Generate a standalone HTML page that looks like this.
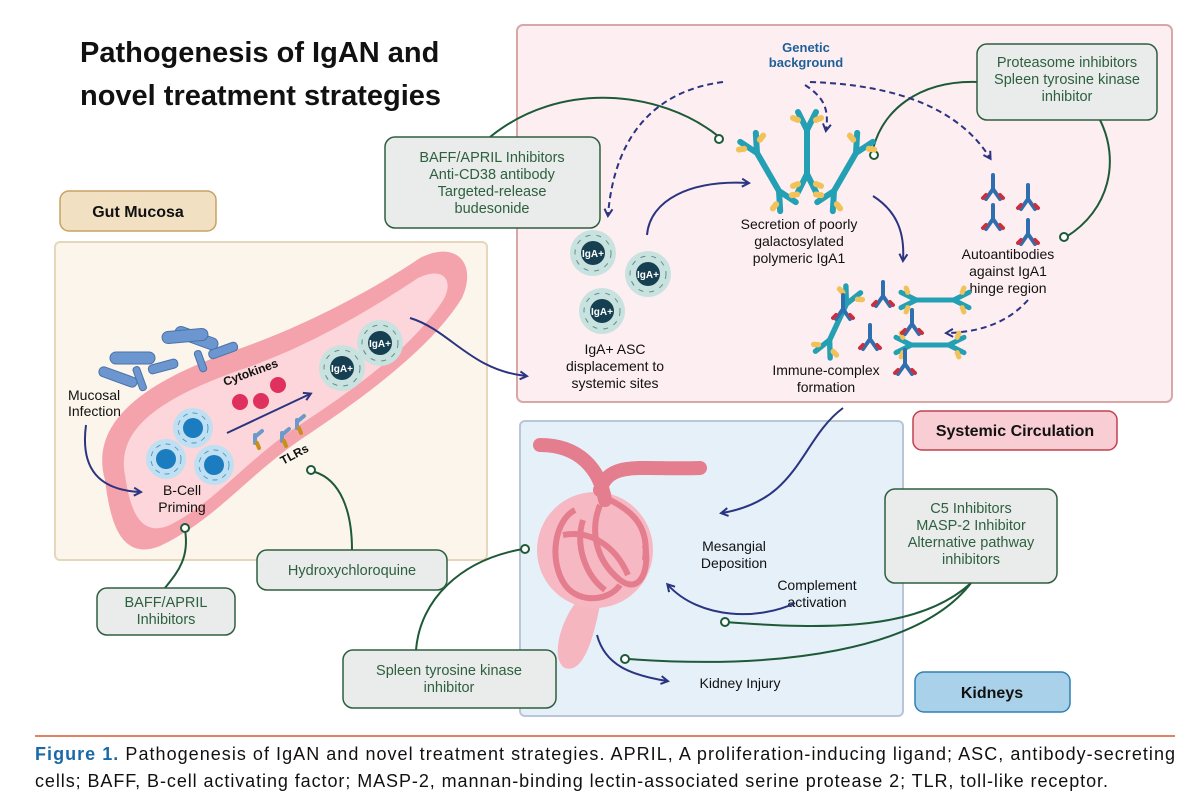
<!DOCTYPE html>
<html><head><meta charset="utf-8"><style>
body{margin:0;background:#fff;}
svg{display:block;font-family:"Liberation Sans",Arial,sans-serif;}
</style></head><body>
<svg width="1200" height="811" viewBox="0 0 1200 811" xmlns="http://www.w3.org/2000/svg">
<defs>
<marker id="ar" viewBox="0 0 10 10" refX="7" refY="5" markerWidth="5" markerHeight="5" orient="auto"><path d="M1,1 L8,5 L1,9" fill="none" stroke="#2a3480" stroke-width="2"/></marker>
<g id="ab">
<path d="M0,0 L0,30 M0,30 L-14,55 M0,30 L14,55" stroke="#23a0b4" stroke-width="6" fill="none" stroke-linecap="round"/>
<path d="M-12,46 l-5,6 M12,46 l5,6" stroke="#f2c25a" stroke-width="6" stroke-linecap="round"/>
</g>
<g id="xab">
<path d="M-9,-40 L0,-22 L9,-40 M0,-22 L0,22 M-9,40 L0,22 L9,40" stroke="#23a0b4" stroke-width="6" fill="none" stroke-linecap="round"/>
<path d="M-9,-32 l-5,-2 M9,-32 l5,-2 M-9,32 l-5,2 M9,32 l5,2" stroke="#f2c25a" stroke-width="6" stroke-linecap="round"/>
</g>
<g id="aa">
<path d="M0,0 L0,14 L-7,24 M0,14 L7,24" stroke="#2f6fb0" stroke-width="4" fill="none" stroke-linecap="round"/>
<path d="M-7,20 l-3,3 M7,20 l3,3" stroke="#c83040" stroke-width="4" stroke-linecap="round"/>
</g>
<g id="iga"><circle r="23" fill="#c8e3df"/><circle r="18" fill="none" stroke="#6a8a8a" stroke-dasharray="5 6"/><circle r="12" fill="#173f52"/><text y="4" text-anchor="middle" font-size="10" font-weight="bold" fill="#fff">IgA+</text></g>
<g id="bc"><circle r="20" fill="#bfe0f2"/><circle r="15" fill="none" stroke="#5a9ac0" stroke-dasharray="5 5"/><circle r="10" fill="#1b7cc0"/></g>
</defs>

<text x="80" y="62" font-size="29" font-weight="bold" fill="#111">Pathogenesis of IgAN and</text>
<text x="80" y="105" font-size="29" font-weight="bold" fill="#111">novel treatment strategies</text>

<rect x="517" y="25" width="655" height="377" rx="6" fill="#fdeef1" stroke="#d6a8a8" stroke-width="2"/>
<rect x="520" y="421" width="383" height="295" rx="5" fill="#e6f0f9" stroke="#b8c6d8" stroke-width="2"/>
<rect x="55" y="242" width="432" height="318" rx="5" fill="#fcf5eb" stroke="#e6d6bc" stroke-width="2"/>

<rect x="60" y="191" width="156" height="40" rx="9" fill="#f1e0c2" stroke="#c7a262" stroke-width="1.5"/>
<text x="138" y="217" text-anchor="middle" font-size="16" font-weight="bold" fill="#111">Gut Mucosa</text>
<rect x="913" y="411" width="204" height="39" rx="9" fill="#f8cdd4" stroke="#c04050" stroke-width="1.5"/>
<text x="1015" y="436" text-anchor="middle" font-size="16" font-weight="bold" fill="#111">Systemic Circulation</text>
<rect x="915" y="672" width="155" height="40" rx="9" fill="#a9d1ea" stroke="#2f80b4" stroke-width="1.5"/>
<text x="992" y="698" text-anchor="middle" font-size="16" font-weight="bold" fill="#111">Kidneys</text>

<path d="M105,480 C88,420 150,380 230,352 C310,325 380,285 420,258 C455,240 478,262 462,298 C430,350 360,400 300,440 C245,478 215,520 160,546 C120,562 110,520 105,480 Z" fill="#f4a3ac"/>
<path d="M125,475 C115,425 170,395 240,370 C315,345 385,300 418,278 C445,265 455,282 442,302 C410,350 350,392 295,428 C245,462 215,502 170,525 C140,538 130,510 125,475 Z" fill="#fcd6da"/>

<g fill="#6b96cf" stroke="#4a72aa" stroke-width="1">
<rect x="110" y="352" width="45" height="12" rx="6"/>
<rect x="174" y="332" width="45" height="12" rx="6" transform="rotate(20 196 338)"/>
<rect x="162" y="330" width="46" height="12" rx="6" transform="rotate(-5 185 336)"/>
<rect x="148" y="362" width="30" height="9" rx="4" transform="rotate(-15 163 366)"/>
<rect x="208" y="346" width="30" height="9" rx="4" transform="rotate(-20 223 350)"/>
<rect x="98" y="372" width="40" height="10" rx="5" transform="rotate(20 118 377)"/>
<rect x="128" y="375" width="25" height="7" rx="3" transform="rotate(70 140 378)"/>
<rect x="190" y="358" width="22" height="7" rx="3" transform="rotate(70 201 361)"/>
</g>
<text x="68" y="400" font-size="14" fill="#111">Mucosal</text>
<text x="68" y="416" font-size="14" fill="#111">Infection</text>
<path d="M86,425 C80,470 100,490 140,492" fill="none" stroke="#2a3480" stroke-width="2" marker-end="url(#ar)"/>
<use href="#bc" x="193" y="428"/><use href="#bc" x="166" y="459"/><use href="#bc" x="214" y="465"/>
<text x="182" y="495" text-anchor="middle" font-size="14" fill="#111">B-Cell</text>
<text x="182" y="512" text-anchor="middle" font-size="14" fill="#111">Priming</text>
<circle cx="240" cy="402" r="8" fill="#e0305e"/><circle cx="261" cy="401" r="8" fill="#e0305e"/><circle cx="278" cy="385" r="8" fill="#e0305e"/>
<text x="225" y="386" font-size="12" font-weight="bold" fill="#111" transform="rotate(-20 225 386)">Cytokines</text>
<path d="M227,433 L310,394" stroke="#2a3480" stroke-width="2" marker-end="url(#ar)"/>
<g stroke-width="4" stroke-linecap="round">
<path d="M255,435 l0,8 M262,431 l-6,5" stroke="#6a9ac8"/><path d="M282,433 l0,8 M289,429 l-6,5" stroke="#6a9ac8"/><path d="M297,420 l0,8 M304,416 l-6,5" stroke="#6a9ac8"/>
<path d="M257,443 l2,5 M284,441 l2,5 M299,428 l2,5" stroke="#c8901a"/>
</g>
<text x="283" y="465" font-size="12" font-weight="bold" fill="#111" transform="rotate(-28 283 465)">TLRs</text>
<use href="#iga" x="342" y="368"/><use href="#iga" x="380" y="343"/>
<path d="M410,318 C450,330 470,370 526,376" fill="none" stroke="#2a3480" stroke-width="2" marker-end="url(#ar)"/>

<g fill="none" stroke="#1e5a38" stroke-width="2">
<path d="M490,137 C560,80 660,90 718,136"/>
<path d="M872,154 C880,110 920,80 978,82"/>
<path d="M1100,120 C1120,160 1110,210 1066,237"/>
<path d="M185,530 C190,560 175,575 165,588"/>
<path d="M352,550 C352,510 340,480 315,472"/>
<path d="M416,650 C420,600 460,560 523,549"/>
<path d="M971,583 C920,630 830,630 725,622"/>
<path d="M971,583 C920,650 780,670 628,659"/>
</g>
<g fill="#fff" stroke="#1e5a38" stroke-width="2">
<circle cx="719" cy="139" r="4"/><circle cx="874" cy="155" r="4"/><circle cx="1064" cy="237" r="4"/><circle cx="185" cy="528" r="4"/><circle cx="311" cy="470" r="4"/><circle cx="525" cy="549" r="4"/><circle cx="725" cy="622" r="4"/><circle cx="625" cy="659" r="4"/>
</g>

<g fill="#e9ecea" stroke="#2e5e40" stroke-width="1.5">
<rect x="385" y="137" width="215" height="91" rx="10"/>
<rect x="977" y="44" width="180" height="76" rx="10"/>
<rect x="257" y="550" width="190" height="40" rx="10"/>
<rect x="97" y="588" width="138" height="47" rx="10"/>
<rect x="343" y="650" width="213" height="58" rx="10"/>
<rect x="885" y="489" width="172" height="94" rx="10"/>
</g>
<g font-size="14.5" fill="#2e6040" text-anchor="middle">
<text x="492" y="162">BAFF/APRIL Inhibitors</text><text x="492" y="179">Anti-CD38 antibody</text><text x="492" y="196">Targeted-release</text><text x="492" y="213">budesonide</text>
<text x="1067" y="67">Proteasome inhibitors</text><text x="1067" y="84">Spleen tyrosine kinase</text><text x="1067" y="101">inhibitor</text>
<text x="352" y="575">Hydroxychloroquine</text>
<text x="166" y="607">BAFF/APRIL</text><text x="166" y="624">Inhibitors</text>
<text x="449" y="675">Spleen tyrosine kinase</text><text x="449" y="692">inhibitor</text>
<text x="971" y="513">C5 Inhibitors</text><text x="971" y="530">MASP-2 Inhibitor</text><text x="971" y="547">Alternative pathway</text><text x="971" y="564">inhibitors</text>
</g>

<text x="806" y="52" text-anchor="middle" font-size="13" font-weight="bold" fill="#1f5f99">Genetic</text>
<text x="806" y="67" text-anchor="middle" font-size="13" font-weight="bold" fill="#1f5f99">background</text>
<g fill="none" stroke="#2a3480" stroke-width="2" stroke-dasharray="6 4">
<path d="M723,82 C660,90 615,130 608,215" marker-end="url(#ar)"/>
<path d="M775,85 C790,95 800,105 796,130" marker-end="url(#ar)" transform="translate(30 0)"/>
<path d="M810,82 C900,85 960,110 990,158" marker-end="url(#ar)"/>
<path d="M1028,300 C1010,320 985,332 947,333" marker-end="url(#ar)"/>
</g>
<use href="#iga" x="593" y="253"/><use href="#iga" x="648" y="274"/><use href="#iga" x="602" y="311"/>
<g font-size="14" fill="#111" text-anchor="middle">
<text x="615" y="354">IgA+ ASC</text><text x="615" y="371">displacement to</text><text x="615" y="388">systemic sites</text>
<text x="799" y="229">Secretion of poorly</text><text x="799" y="246">galactosylated</text><text x="799" y="263">polymeric IgA1</text>
<text x="1008" y="259">Autoantibodies</text><text x="1008" y="276">against IgA1</text><text x="1008" y="293">hinge region</text>
<text x="826" y="375">Immune-complex</text><text x="826" y="392">formation</text>
<text x="734" y="551">Mesangial</text><text x="734" y="568">Deposition</text>
<text x="817" y="590">Complement</text><text x="817" y="607">activation</text>
<text x="740" y="688">Kidney Injury</text>
</g>
<g fill="none" stroke="#2a3480" stroke-width="2">
<path d="M647,235 C650,200 690,180 748,183" marker-end="url(#ar)"/>
<path d="M873,196 C895,210 905,230 903,260" marker-end="url(#ar)"/>
<path d="M843,408 C800,440 800,500 722,513" marker-end="url(#ar)"/>
<path d="M795,603 C760,620 700,620 668,585" marker-end="url(#ar)"/>
<path d="M597,635 C605,665 630,675 667,681" marker-end="url(#ar)"/>
</g>
<!-- secreted IgA1 -->
<use href="#xab" transform="translate(807 152)"/>
<use href="#xab" transform="translate(768 172) rotate(-30)"/>
<use href="#xab" transform="translate(845 172) rotate(30)"/>
<use href="#aa" x="993" y="175"/><use href="#aa" x="1028" y="185"/><use href="#aa" x="993" y="205"/><use href="#aa" x="1028" y="220"/>
<!-- immune complex -->
<use href="#xab" transform="translate(838 322) rotate(25) scale(0.9)"/>
<use href="#xab" transform="translate(935 300) rotate(90) scale(0.85)"/>
<use href="#xab" transform="translate(930 345) rotate(90) scale(0.85)"/>
<use href="#aa" x="843" y="295"/><use href="#aa" x="883" y="282"/><use href="#aa" x="912" y="310"/><use href="#aa" x="870" y="325"/><use href="#aa" x="905" y="350"/>

<path d="M578,600 C560,620 550,660 565,668 C585,675 595,630 600,605 Z" fill="#f6b6c0"/>
<circle cx="595" cy="550" r="58" fill="#f6b9c3"/>
<path d="M540,445 C580,445 600,470 605,500 M600,490 C610,460 640,470 700,468" stroke="#e47d8e" stroke-width="14" fill="none" stroke-linecap="round"/>
<g fill="none" stroke="#e47d8e" stroke-width="6">
<path d="M575,510 C555,520 548,560 565,585 C580,605 610,600 620,585"/>
<path d="M600,505 C590,530 595,560 620,580 C640,595 650,570 645,545"/>
<path d="M610,500 C630,510 650,525 645,560"/>
<path d="M583,520 C575,545 585,575 605,590"/>
<path d="M563,535 C590,530 615,545 628,575"/>
</g>

<line x1="35" y1="736" x2="1175" y2="736" stroke="#d45a30" stroke-width="1.5"/>
<text x="35" y="760" font-size="18" fill="#111" textLength="1140" lengthAdjust="spacing"><tspan font-weight="bold" fill="#1a6aa8">Figure 1.</tspan> Pathogenesis of IgAN and novel treatment strategies. APRIL, A proliferation-inducing ligand; ASC, antibody-secreting</text>
<text x="35" y="787" font-size="18" fill="#111" textLength="1073" lengthAdjust="spacing">cells; BAFF, B-cell activating factor; MASP-2, mannan-binding lectin-associated serine protease 2; TLR, toll-like receptor.</text>
</svg>
</body></html>
